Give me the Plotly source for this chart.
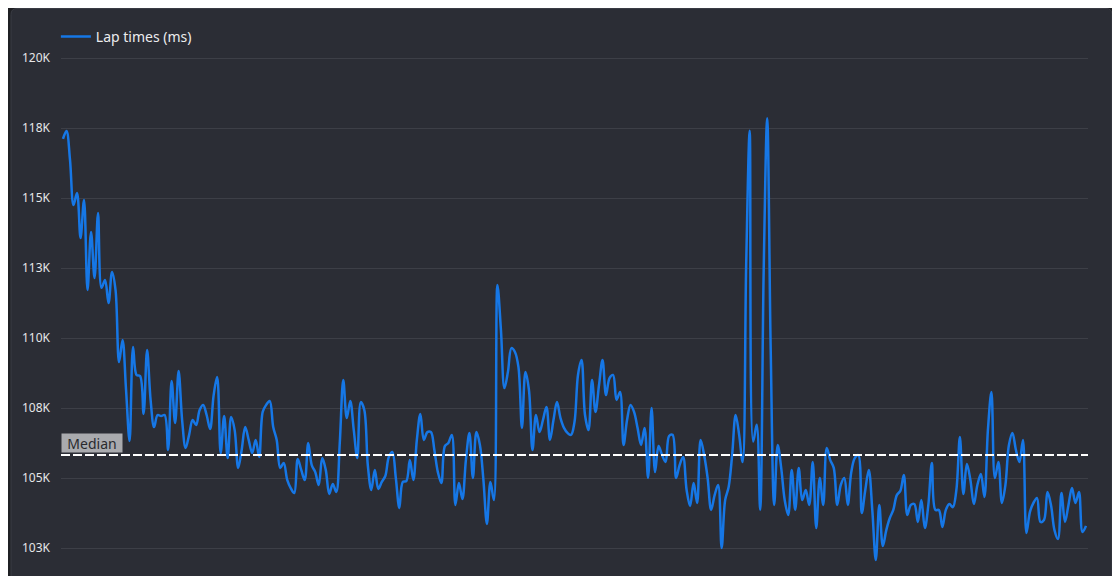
import numpy as np
import plotly.graph_objects as go

# lap times, one value per lap (ms)
lap_ms = [
    117110, 117390, 116360, 114750, 115180, 113570, 114930, 111710, 113790, 112140,
    114460, 111790, 112070, 111250, 112360, 111710, 109140, 109930, 108140, 106320,
    109680, 108680, 108640, 107290, 109570, 107790, 106820, 107250, 107210, 107250,
    106000, 108460, 106960, 108820, 107070, 106070, 106540, 107070, 106890, 107430,
    107610, 107250, 106750, 107960, 108610, 105890, 107210, 105710, 107180, 106710,
    105360, 106000, 106820, 106360, 105890, 106360, 105750, 107360, 107610, 107750,
    106820, 106360, 105360, 105540, 104930, 104640, 104460, 105680, 105290, 104930,
    106250, 105460, 105210, 104750, 105710, 105290, 104430, 104790, 104500, 106250,
    108500, 107140, 107750, 106710, 105710, 107710, 107430, 105460, 104570, 105290,
    104610, 104860, 105070, 105750, 105930, 105000, 103930, 104860, 104890, 105640,
    104930, 106360, 107290, 106360, 106640, 106640, 106000, 105210, 104820, 106140,
    106250, 106540, 104040, 104820, 104250, 105640, 106610, 105000, 106640, 106180,
    104930, 103360, 104860, 104210, 111890, 110290, 108210, 108790, 109640, 109500,
    108960, 106790, 108790, 108140, 106000, 107250, 106640, 107070, 107540, 106360,
    107070, 107710, 107140, 106790, 106610, 106540, 107000, 108680, 109210, 107250,
    106710, 108500, 107360, 108320, 109210, 107960, 108570, 108680, 107790, 108070,
    106180, 107070, 107610, 107360, 106790, 106180, 106790, 105000, 107500, 105210,
    106140, 105820, 105570, 106500, 106540, 105000, 105460, 105750, 104570, 104000,
    104820, 104110, 106360, 105820, 105000, 103860, 104390, 104750, 102500, 104210,
    104680, 105820, 107250, 106540, 105570, 112600, 117400, 106300, 106900, 103860,
    112400, 117850, 109600, 104040, 106180, 105360, 104210, 103680, 105290, 103860,
    105360, 104210, 104570, 104040, 105570, 103210, 105000, 104040, 106070, 105640,
    105360, 104040, 104750, 105000, 104040, 105210, 105710, 105820, 103750, 104570,
    105290, 103860, 102070, 104040, 102570, 103140, 103570, 103860, 104390, 104540,
    105110, 103680, 104040, 104070, 103430, 104210, 103210, 104040, 105540, 103860,
    103860, 103250, 103860, 104070, 103960, 104570, 106460, 104430, 105500, 104930,
    104070, 104750, 105140, 104320, 106710, 108070, 105000, 105570, 104110, 104750,
    106180, 106610, 106000, 105570, 106360, 103040, 103790, 104110, 104290, 103430,
    103500, 104500, 104040, 103140, 102820, 104460, 103430, 104040, 104640, 104110,
    104500, 103070, 103290,
]
laps = list(range(1, len(lap_ms) + 1))

median_ms = 105820

tick_vals = [102500, 105000, 107500, 110000, 112500, 115000, 117500, 120000]
tick_text = ["103K", "105K", "108K", "110K", "113K", "115K", "118K", "120K"]

# the page puts the figure 8px in from the top-left corner
W, H = 1112, 568
ML, MR, MT, MB = 53, 32, 42, 0
PW, PH = W - ML - MR, H - MT - MB

BG_OUT = "#1f2024"
BG_CARD = "#2b2d35"
BLUE = "#1677e6"


def px_x(p):
    return (p - ML) / PW


def px_y(p):
    return (H - MB - p) / PH


# card with rounded top corners, drawn in paper units
l, r, t, b = px_x(3), px_x(1104), px_y(0.5), px_y(620)
rx, ry = 6 / PW, 6 / PH
card_path = (f"M{l},{b} L{l},{t - ry} Q{l},{t} {l + rx},{t} "
             f"L{r - rx},{t} Q{r},{t} {r},{t - ry} L{r},{b} Z")

fig = go.Figure()
fig.add_trace(go.Scatter(
    x=laps, y=lap_ms, mode="lines", name="Lap times (ms)",
    line=dict(color=BLUE, width=2.5, shape="spline", smoothing=1),
))

fig.add_shape(type="path", path=card_path, xref="paper", yref="paper",
              fillcolor=BG_CARD, line=dict(color="#3a3c44", width=1), layer="below")
fig.add_shape(type="line", xref="paper", yref="y", x0=0, x1=1, y0=median_ms, y1=median_ms,
              line=dict(color="white", width=2, dash="9px,3px"), layer="above")
fig.add_annotation(x=0, xref="paper", y=median_ms, yref="y", text="Median",
                   xanchor="left", yanchor="bottom", yshift=2, showarrow=False,
                   bgcolor="#a9aaae", width=58, height=16, borderpad=1,
                   font=dict(family="Noto Sans", size=14, color="#2a2a2e"))

# pad the x range by ~2px each side
span = len(lap_ms) - 1
pad = 2 * span / (PW - 4)

fig.update_layout(
    width=W, height=H,
    margin=dict(l=ML, r=MR, t=MT, b=MB),
    paper_bgcolor=BG_OUT, plot_bgcolor="rgba(0,0,0,0)",
    font=dict(family="Noto Sans", color="#e8e8ea"),
    showlegend=True,
    legend=dict(x=-0.005, y=px_y(29), xanchor="left", yanchor="middle", orientation="h",
                bgcolor="rgba(0,0,0,0)", font=dict(size=14, color="#ececee")),
    xaxis=dict(visible=False, range=[1 - pad, len(lap_ms) + pad]),
    yaxis=dict(range=[101500, 101500 + PH * 2500 / 70], tickvals=tick_vals, ticktext=tick_text,
               showgrid=True, gridcolor="#3d3f47", gridwidth=1, zeroline=False,
               ticks="", ticklabelstandoff=10, showline=False,
               tickfont=dict(size=12, color="#e6e6e8")),
)

fig.write_html("out.html")
